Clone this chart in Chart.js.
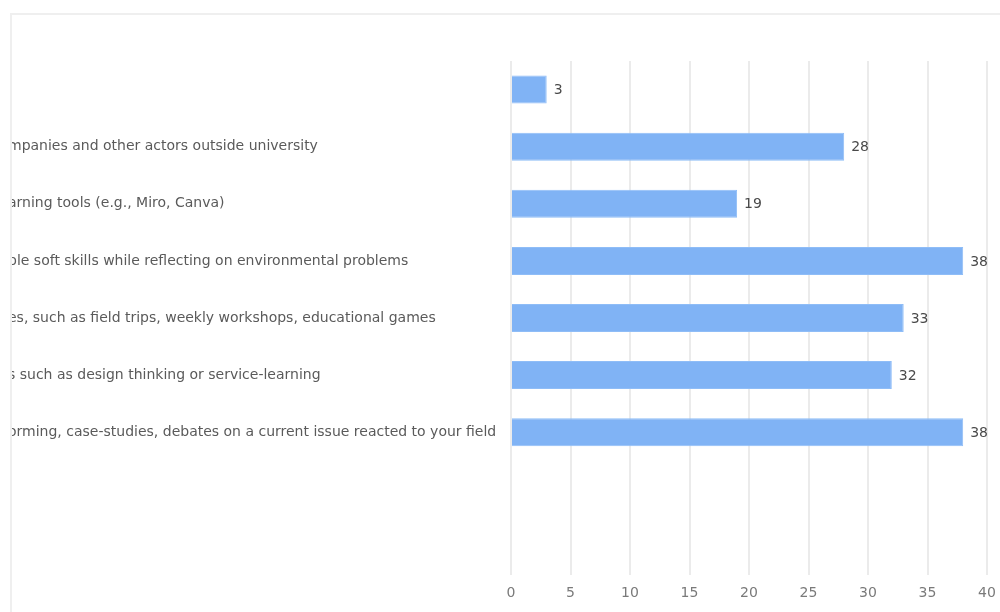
<!DOCTYPE html>
<html lang="en">
<head>
    <meta charset="UTF-8">
    <title>Responses</title>
    <script src="https://cdn.jsdelivr.net/npm/chart.js"></script>
    <style>
        html, body { margin: 0; padding: 0; background: #fff; }
        .card {
            position: absolute;
            left: 10px;
            top: 13px;
            width: 990px;
            height: 599px;
            border-left: 2px solid #efefef;
            border-top: 2px solid #efefef;
            overflow: hidden;
        }
        .chart-box {
            position: absolute;
            left: -12px;
            top: -15px;
            width: 1000px;
            height: 612px;
        }
    </style>
</head>
<body>
    <div class="card">
        <div class="chart-box">
            <canvas id="answers"></canvas>
        </div>
    </div>

    <script>
        const categories = [
            '',
            'mpanies and other actors outside university',
            'arning tools (e.g., Miro, Canva)',
            'ble soft skills while reflecting on environmental problems',
            'es, such as field trips, weekly workshops, educational games',
            's such as design thinking or service-learning',
            'orming, case-studies, debates on a current issue reacted to your field',
            '',
            ''
        ];
        const counts = [3, 28, 19, 38, 33, 32, 38, null, null];
        const xTicks = [0, 5, 10, 15, 20, 25, 30, 35, 40];

        const font = 'DejaVu Sans, Verdana, sans-serif';

        // value printed just past the end of each bar
        const valueLabels = {
            id: 'valueLabels',
            afterDatasetsDraw(chart) {
                const ctx = chart.ctx;
                const meta = chart.getDatasetMeta(0);
                ctx.save();
                ctx.font = '14px ' + font;
                ctx.fillStyle = '#4a4a4a';
                ctx.textAlign = 'left';
                ctx.textBaseline = 'middle';
                meta.data.forEach((bar, i) => {
                    const v = counts[i];
                    if (v === null) return;
                    ctx.fillText(String(v), bar.x + 7, bar.y + 1);
                });
                ctx.restore();
            }
        };

        new Chart(document.getElementById('answers'), {
            type: 'bar',
            data: {
                labels: categories,
                datasets: [{
                    data: counts,
                    backgroundColor: '#80b3f5',
                    borderColor: '#8fbdf7',
                    borderWidth: 1,
                    barPercentage: 0.98,
                    categoryPercentage: 0.5
                }]
            },
            options: {
                indexAxis: 'y',
                responsive: true,
                maintainAspectRatio: false,
                animation: false,
                layout: { padding: { top: 61, right: 13, bottom: 0, left: 8 } },
                plugins: {
                    legend: { display: false },
                    tooltip: { enabled: false }
                },
                scales: {
                    x: {
                        min: 0,
                        max: 40,
                        afterBuildTicks(scale) {
                            scale.ticks = xTicks.map(v => ({ value: v }));
                        },
                        afterFit(scale) {
                            // let the end labels hang over instead of shrinking the plot
                            scale.height = 37;
                            scale.paddingLeft = 0;
                            scale.paddingRight = 0;
                        },
                        border: { display: false },
                        grid: { color: '#ebebeb', lineWidth: 2, drawTicks: false },
                        ticks: {
                            padding: 10,
                            color: '#7a7a7a',
                            font: { family: font, size: 14 }
                        }
                    },
                    y: {
                        border: { display: false },
                        grid: { display: false, drawTicks: false },
                        afterFit(scale) { scale.width = 503; },
                        ticks: {
                            crossAlign: 'far',
                            color: '#5a5a5a',
                            autoSkip: false,
                            font: { family: font, size: 14 }
                        }
                    }
                }
            },
            plugins: [valueLabels]
        });
    </script>
</body>
</html>
